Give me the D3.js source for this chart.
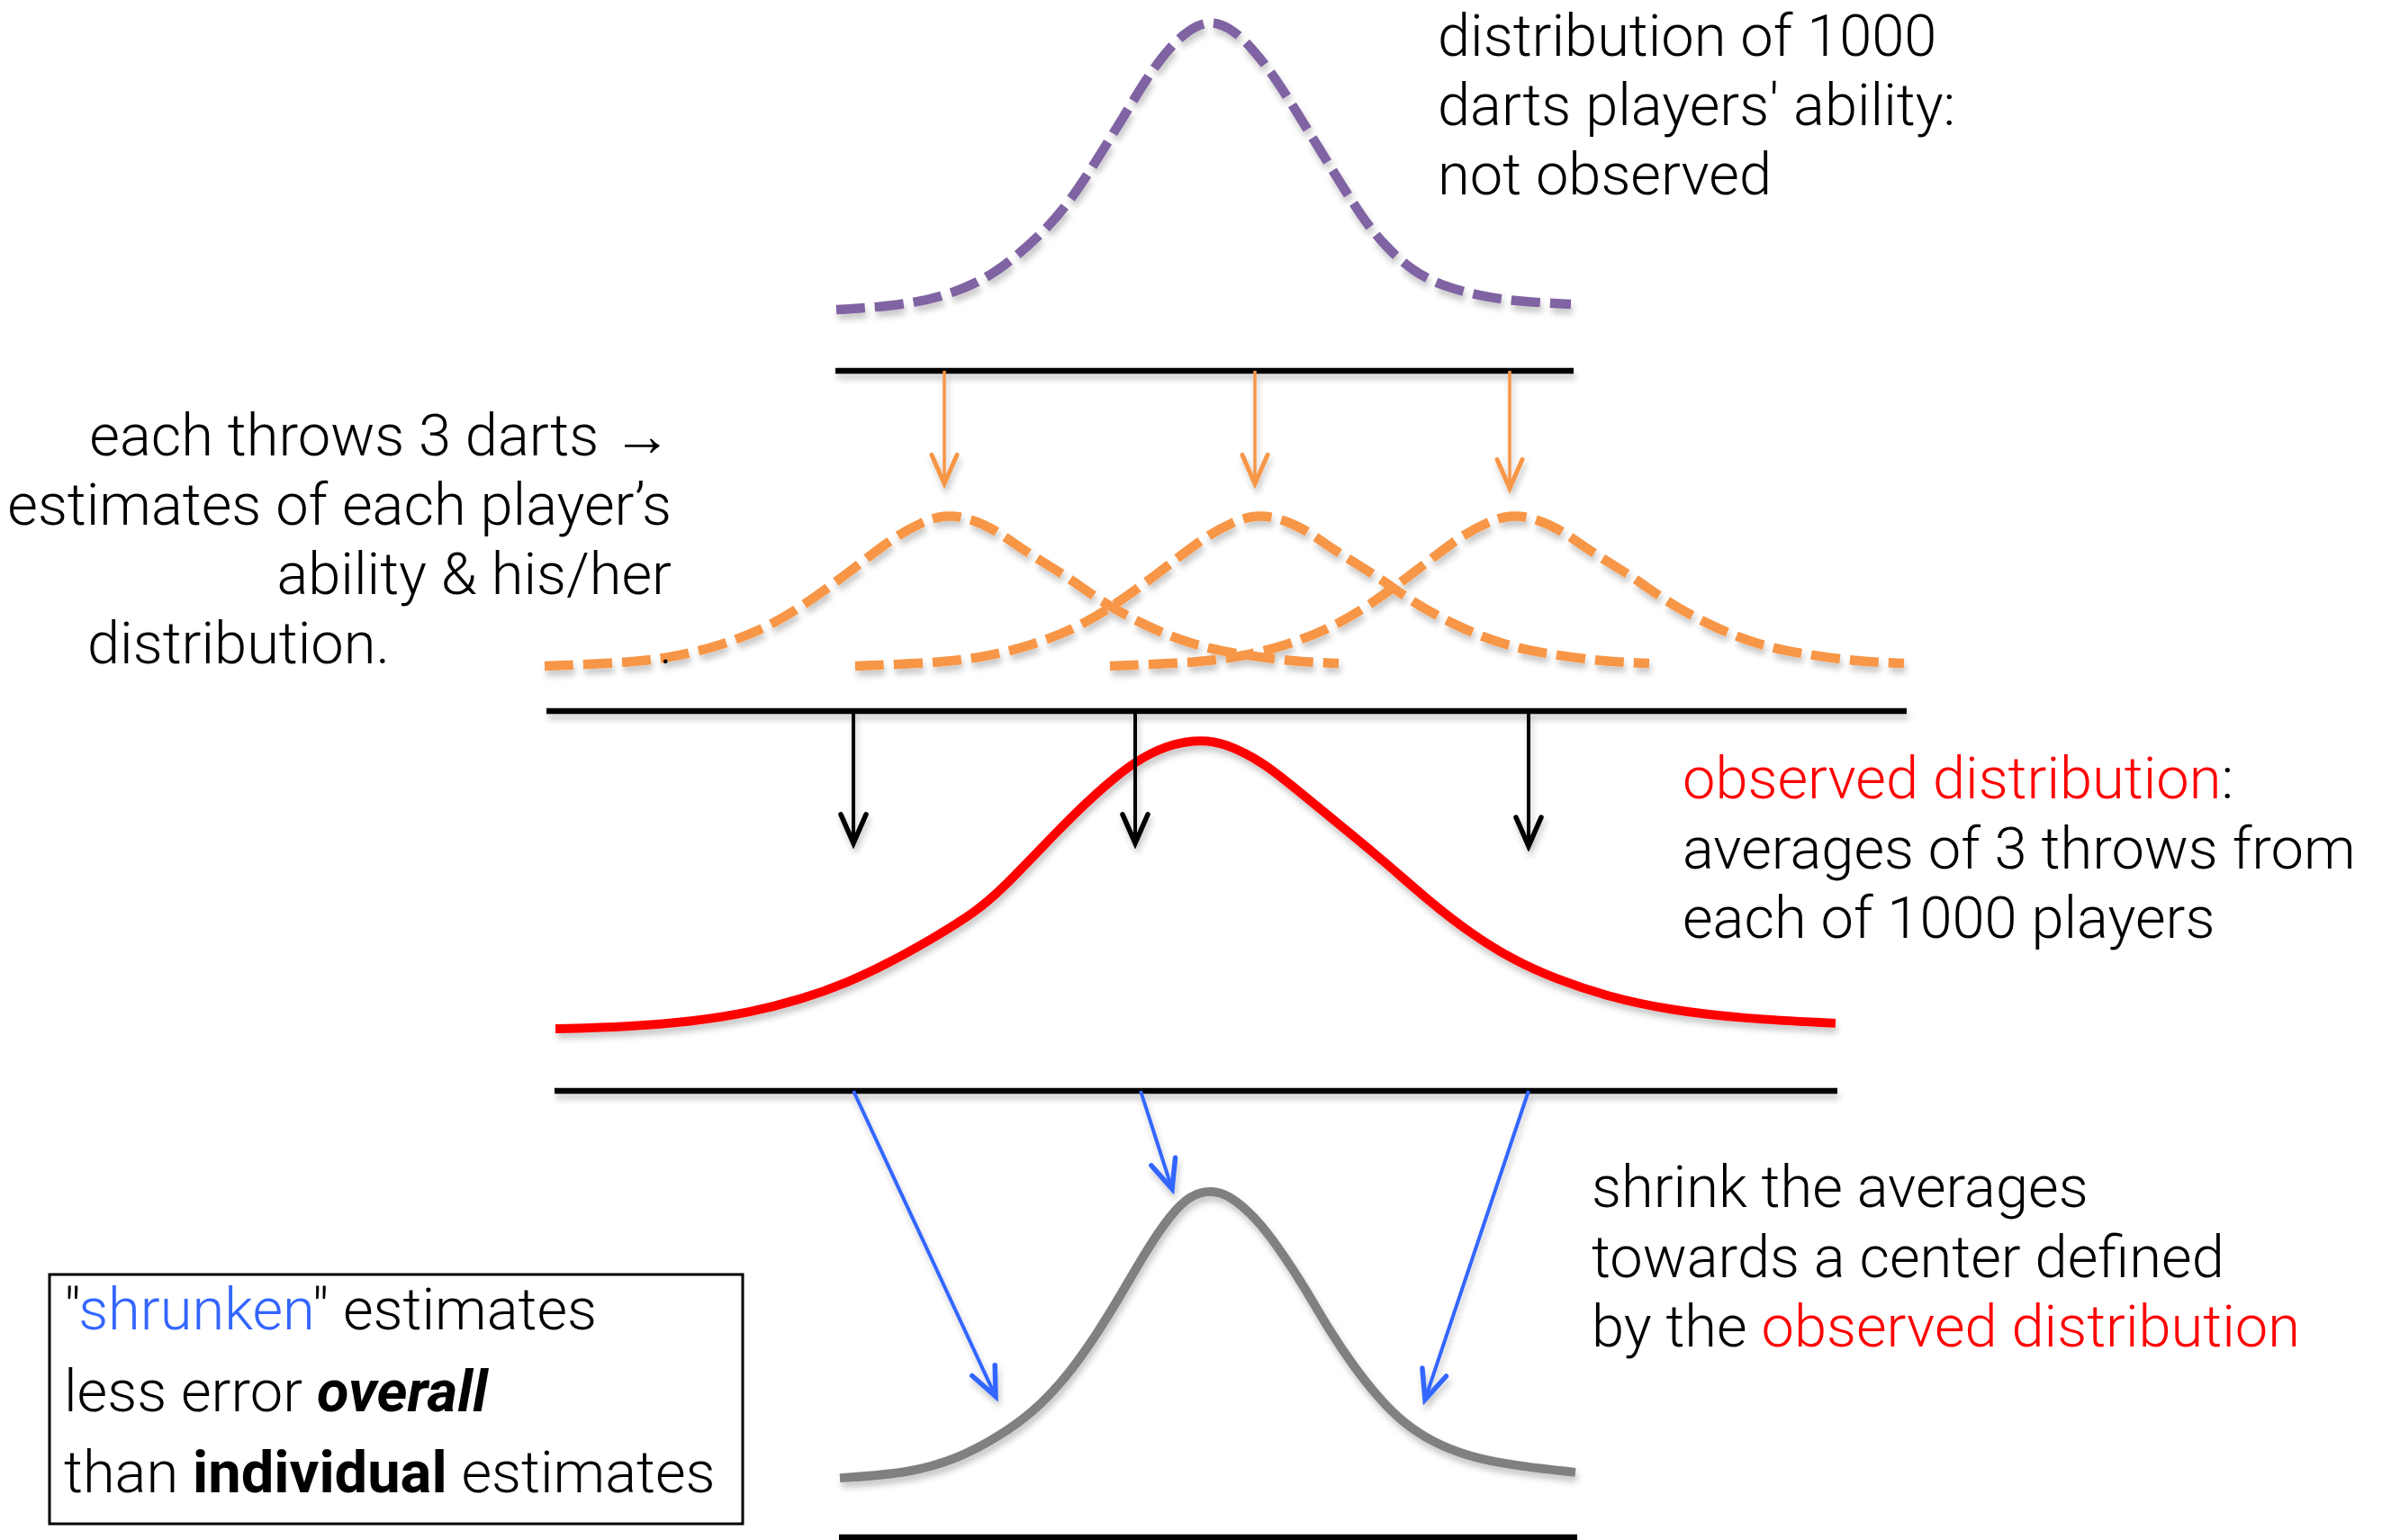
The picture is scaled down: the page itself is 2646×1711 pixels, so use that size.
<!DOCTYPE html>
<html><head><meta charset="utf-8">
<script src="https://cdn.jsdelivr.net/npm/d3@7"></script>
<style>html,body{margin:0;padding:0;background:#fff;} svg{display:block}</style>
</head><body>
<svg id="chart" width="2646" height="1711"></svg>
<script>
// ================= DATA (ability score 0-100, relative density 0-1) =================
// latent ability distribution (purple, not observed)
const purpleAbility = [29.35, 32.7, 35.25, 37.45, 39.05, 41.3, 42.9, 44.15, 45.3, 46.4, 47.65, 48.95, 50.05, 51.2, 52.45, 53.75, 55.0, 56.1, 57.25, 58.5, 59.8, 61.4, 62.95, 64.9, 67.1, 70.15];
const purpleDensity = [0.018, 0.031, 0.061, 0.116, 0.183, 0.306, 0.437, 0.56, 0.673, 0.786, 0.896, 0.972, 1.0, 0.979, 0.908, 0.804, 0.682, 0.572, 0.459, 0.336, 0.235, 0.147, 0.101, 0.067, 0.046, 0.037];
// each player's estimate distribution (orange), offsets from player's estimate
const orangeOffset = [-22.2, -18.4, -15.4, -12.35, -9.85, -7.85, -6.05, -4.3, -2.8, -1.25, 0, 1.25, 2.75, 4.5, 6.8, 8.8, 11.35, 13.85, 16.35, 19.4, 21.9];
const orangeDensity = [0.029, 0.046, 0.075, 0.162, 0.277, 0.416, 0.566, 0.722, 0.855, 0.954, 1.0, 0.983, 0.913, 0.763, 0.607, 0.434, 0.277, 0.162, 0.104, 0.058, 0.046];
const playerCenters = [35.35, 52.6, 66.75];
// observed distribution of averages (red)
const redAbility = [13.75, 17.75, 21.4, 24.55, 27.45, 29.85, 32.3, 34.7, 37.15, 38.6, 40.05, 41.5, 43.2, 44.9, 46.35, 48.05, 49.6, 50.9, 53.05, 54.95, 57.35, 59.75, 62.15, 64.55, 66.95, 69.3, 72.2, 75.55, 79.85, 84.85];
const redDensity = [0.021, 0.028, 0.046, 0.076, 0.122, 0.174, 0.245, 0.327, 0.419, 0.498, 0.59, 0.682, 0.786, 0.878, 0.942, 0.988, 1.0, 0.99, 0.925, 0.83, 0.71, 0.59, 0.46, 0.345, 0.254, 0.19, 0.13, 0.085, 0.055, 0.04];
// shrunken estimates (gray)
const grayAbility = [29.55, 33.4, 36.15, 38.3, 40.25, 42.15, 43.8, 45.2, 46.55, 47.9, 49.0, 50.15, 51.2, 52.6, 53.95, 55.35, 56.7, 58.05, 59.45, 60.8, 62.45, 64.4, 66.85, 70.4];
const grayDensity = [0.024, 0.04, 0.091, 0.162, 0.244, 0.366, 0.509, 0.649, 0.793, 0.915, 0.982, 1.0, 0.982, 0.909, 0.802, 0.671, 0.527, 0.405, 0.296, 0.213, 0.146, 0.098, 0.067, 0.043];
// ability axes under each distribution [from, to]
const axisFrom = [29.3, 13.25, 13.7, 29.5];
const axisTo = [70.3, 88.8, 84.95, 70.5];
// arrows
const throwArrowX = [35.35, 52.6, 66.75];          // true ability -> player estimate
const throwArrowTip = [1.2, 1.2, 1.17];             // in orange density units
const averageArrowX = [30.3, 45.95, 67.8];          // averages -> observed
const averageArrowTip = [0.65, 0.65, 0.64];         // in red density units
const shrinkFrom = [30.3, 46.25, 67.8];             // observed average
const shrinkTo = [38.2, 48.0, 62.05];               // shrunken estimate
const shrinkTip = [0.30, 1.003, 0.29];              // in gray density units
// texts
const topLabel = ["distribution of 1000", "darts players' ability:", "not observed"];
const leftLabel = ["each throws 3 darts \u2192", "estimates of each player\u2019s", "ability & his/her"];
const leftLabelLast = "distribution.";
const observedLabel = [[["observed distribution", "red"], [":", "black"]], [["averages of 3 throws from", "black"]], [["each of 1000 players", "black"]]];
const shrinkLabel = [[["shrink the averages", "black"]], [["towards a center defined", "black"]], [["by the ", "black"], ["observed distribution", "red"]]];
const boxLabel = [[["\"", "black"], ["shrunken", "blue"], ["\" estimates", "black"]],
                  [["less error ", "black"], ["overall", "bolditalic"]],
                  [["than ", "black"], ["individual", "bold"], [" estimates", "black"]]];

// ================= DRAWING =================
const svg = d3.select("#chart");
const W = 2646, H = 1711;
svg.append("rect").attr("width", W).attr("height", H).attr("fill", "#fff");

const defs = svg.append("defs");
const f = defs.append("filter").attr("id", "shadow").attr("filterUnits", "userSpaceOnUse")
  .attr("x", 0).attr("y", 0).attr("width", W).attr("height", H);
f.append("feDropShadow").attr("dx", 2).attr("dy", 6).attr("stdDeviation", 3.5)
  .attr("flood-color", "#000").attr("flood-opacity", 0.22);

const COL = {purple: "#8064A2", orange: "#F79646", red: "#FF0000", gray: "#808080", blue: "#3366FF", black: "#000"};
function marker(id, color, sw) {
  defs.append("marker").attr("id", id).attr("markerUnits", "userSpaceOnUse")
    .attr("viewBox", "-42 -22 48 44").attr("refX", 0).attr("refY", 0)
    .attr("markerWidth", 48).attr("markerHeight", 44).attr("orient", "auto")
    .append("path").attr("d", "M-32,-14 L0,0 L-32,14").attr("fill", "none")
    .attr("stroke", color).attr("stroke-width", sw).attr("stroke-linecap", "round");
}
marker("mOrange", COL.orange, 5); marker("mBlack", COL.black, 5.5); marker("mBlue", COL.blue, 5.5);

const x = d3.scaleLinear().domain([0, 100]).range([342, 2342]);
// vertical scales per panel: density 0..1 -> baseline..peak
const yPurple = d3.scaleLinear().domain([0, 1]).range([350, 23]);
const yOrange = d3.scaleLinear().domain([0, 1]).range([745, 572]);
const yRed = d3.scaleLinear().domain([0, 1]).range([1150, 822]);
const yGray = d3.scaleLinear().domain([0, 1]).range([1650, 1322]);
const axisY = [412, 790, 1212, 1708];

const g = svg.append("g").attr("filter", "url(#shadow)");

function curve(xs, ys, yS, color, dashed) {
  const line = d3.line().x(d => x(d[0])).y(d => yS(d[1])).curve(d3.curveBasis);
  g.append("path").attr("d", line(d3.zip(xs, ys))).attr("fill", "none")
    .attr("stroke", color).attr("stroke-width", dashed ? 10.5 : 10)
    .attr("stroke-dasharray", dashed ? "32,11" : null)
    .attr("stroke-linecap", "butt").attr("stroke-linejoin", "round");
}

// axes
axisFrom.forEach((a, i) => {
  g.append("line").attr("x1", x(a)).attr("x2", x(axisTo[i]))
    .attr("y1", axisY[i]).attr("y2", axisY[i]).attr("stroke", "#000").attr("stroke-width", 6.5);
});

curve(purpleAbility, purpleDensity, yPurple, COL.purple, true);
playerCenters.forEach(c => curve(orangeOffset.map(o => c + o), orangeDensity, yOrange, COL.orange, true));
curve(redAbility, redDensity, yRed, COL.red, false);
curve(grayAbility, grayDensity, yGray, COL.gray, false);

// arrows
throwArrowX.forEach((a, i) => {
  g.append("line").attr("x1", x(a)).attr("x2", x(a)).attr("y1", axisY[0]).attr("y2", yOrange(throwArrowTip[i]))
    .attr("stroke", COL.orange).attr("stroke-width", 3.5).attr("marker-end", "url(#mOrange)");
});
averageArrowX.forEach((a, i) => {
  g.append("line").attr("x1", x(a)).attr("x2", x(a)).attr("y1", axisY[1] - 3).attr("y2", yRed(averageArrowTip[i]))
    .attr("stroke", COL.black).attr("stroke-width", 4).attr("marker-end", "url(#mBlack)");
});
shrinkFrom.forEach((a, i) => {
  g.append("line").attr("x1", x(a)).attr("x2", x(shrinkTo[i])).attr("y1", axisY[2]).attr("y2", yGray(shrinkTip[i]))
    .attr("stroke", COL.blue).attr("stroke-width", 4).attr("marker-end", "url(#mBlue)");
});

// texts
const FONT = "Roboto, 'Liberation Sans', Arial, sans-serif";
const FS = 65;
function textBlock(lines, x0, y0, dy, anchor) {
  const t = svg.append("text").attr("font-family", FONT).attr("font-size", FS).attr("font-weight", 300)
    .attr("text-anchor", anchor || "start");
  lines.forEach((segs, i) => {
    segs.forEach((s, j) => {
      const ts = t.append("tspan").text(s[0]);
      if (j === 0) ts.attr("x", x0).attr("y", y0 + i * dy);
      const st = s[1];
      ts.attr("fill", st === "red" ? COL.red : st === "blue" ? COL.blue : "#000");
      if (st === "bold" || st === "bolditalic") ts.attr("font-weight", 700);
      if (st === "bolditalic") ts.attr("font-style", "italic");
    });
  });
}
textBlock(topLabel.map(s => [[s, "black"]]), 1597, 62, 77);
textBlock(leftLabel.map(s => [[s, "black"]]), 746, 506, 77, "end");
textBlock([[[leftLabelLast, "black"]]], 97, 737, 0);
svg.append("text").attr("x", 734).attr("y", 737).attr("font-family", FONT).attr("font-size", 40).text(".");
textBlock(observedLabel, 1869, 887, 77.5);
textBlock(shrinkLabel, 1768, 1341, 77.5);
svg.append("rect").attr("x", 55).attr("y", 1416).attr("width", 770).attr("height", 277)
  .attr("fill", "none").attr("stroke", "#000").attr("stroke-width", 3);
textBlock(boxLabel, 71, 1477, 90.5);
</script>
</body></html>
